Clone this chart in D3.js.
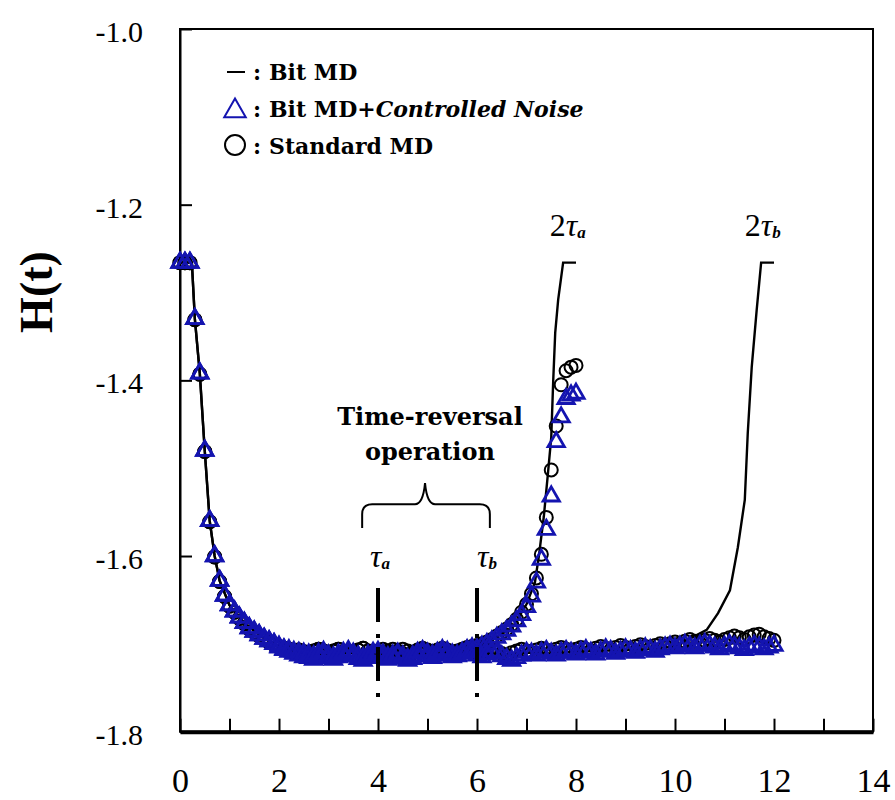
<!DOCTYPE html>
<html lang="en">
<head>
<meta charset="UTF-8">
<title>H(t) with time reversal</title>
<script src="https://d3js.org/d3.v7.min.js"></script>
<style>
  body { margin: 0; background: #fff; }
  svg { display: block; }
  .tick text { font-family: "Liberation Serif", serif; fill: #000; }
  .bold { font-family: "DejaVu Serif", serif; font-weight: bold; }
  .tau { font-family: "Liberation Serif", serif; }
</style>
</head>
<body>
<svg width="895" height="800"></svg>
<script>
// sample times (shared by the marker series)
const time = [
  0.0, 0.1, 0.2, 0.3, 0.4, 0.5, 0.6, 0.7, 0.8, 0.9,
  1.0, 1.1, 1.2, 1.3, 1.4, 1.5, 1.6, 1.7, 1.8, 1.9,
  2.0, 2.1, 2.2, 2.3, 2.4, 2.5, 2.6, 2.7, 2.8, 2.9,
  3.0, 3.1, 3.2, 3.3, 3.4, 3.5, 3.6, 3.7, 3.8, 3.9,
  4.0, 4.1, 4.2, 4.3, 4.4, 4.5, 4.6, 4.7, 4.8, 4.9,
  5.0, 5.1, 5.2, 5.3, 5.4, 5.5, 5.6, 5.7, 5.8, 5.9,
  6.0, 6.1, 6.2, 6.3, 6.4, 6.5, 6.6, 6.7, 6.8, 6.9,
  7.0, 7.1, 7.2, 7.3, 7.4, 7.5, 7.6, 7.7, 7.8, 7.9,
  8.0, 8.1, 8.2, 8.3, 8.4, 8.5, 8.6, 8.7, 8.8, 8.9,
  9.0, 9.1, 9.2, 9.3, 9.4, 9.5, 9.6, 9.7, 9.8, 9.9,
  10.0, 10.1, 10.2, 10.3, 10.4, 10.5, 10.6, 10.7, 10.8, 10.9,
  11.0, 11.1, 11.2, 11.3, 11.4, 11.5, 11.6, 11.7, 11.8, 11.9,
  12.0
];

// Bit MD + controlled noise, reversed at t_a = 4
const noiseA = [
  -1.266, -1.266, -1.266, -1.330, -1.392, -1.480, -1.560, -1.600, -1.628, -1.645,
  -1.656, -1.663, -1.670, -1.676, -1.682, -1.686, -1.690, -1.694, -1.697, -1.700,
  -1.704, -1.707, -1.709, -1.711, -1.713, -1.715, -1.716, -1.718, -1.715, -1.713,
  -1.716, -1.718, -1.715, -1.713, -1.711, -1.714, -1.717, -1.719, -1.716, -1.714,
  -1.712, -1.715, -1.718, -1.716, -1.713, -1.716, -1.719, -1.717, -1.714, -1.711,
  -1.714, -1.716, -1.713, -1.710, -1.712, -1.715, -1.713, -1.710, -1.707, -1.705,
  -1.706, -1.703, -1.700, -1.697, -1.693, -1.689, -1.685, -1.680, -1.674, -1.667,
  -1.658, -1.646, -1.630, -1.604, -1.570, -1.532, -1.470, -1.442, -1.421, -1.417,
  -1.415
];

// Bit MD + controlled noise, reversed at t_b = 6
const noiseB = [
  -1.266, -1.266, -1.266, -1.330, -1.392, -1.480, -1.560, -1.600, -1.628, -1.645,
  -1.656, -1.663, -1.670, -1.676, -1.682, -1.686, -1.690, -1.694, -1.697, -1.700,
  -1.703, -1.706, -1.707, -1.709, -1.710, -1.711, -1.712, -1.714, -1.711, -1.709,
  -1.713, -1.715, -1.712, -1.710, -1.708, -1.711, -1.714, -1.716, -1.713, -1.710,
  -1.709, -1.712, -1.715, -1.713, -1.711, -1.714, -1.717, -1.714, -1.710, -1.708,
  -1.711, -1.713, -1.710, -1.707, -1.709, -1.712, -1.714, -1.711, -1.708, -1.710,
  -1.713, -1.715, -1.712, -1.709, -1.711, -1.714, -1.717, -1.719, -1.716, -1.713,
  -1.710, -1.711, -1.713, -1.710, -1.708, -1.711, -1.713, -1.710, -1.708, -1.710,
  -1.712, -1.709, -1.707, -1.710, -1.712, -1.709, -1.706, -1.708, -1.711, -1.709,
  -1.706, -1.708, -1.710, -1.707, -1.705, -1.707, -1.709, -1.706, -1.704, -1.703,
  -1.705, -1.703, -1.701, -1.703, -1.705, -1.702, -1.700, -1.702, -1.704, -1.706,
  -1.703, -1.701, -1.703, -1.705, -1.707, -1.704, -1.702, -1.704, -1.706, -1.704,
  -1.702
];

// Standard MD, reversed at t_a = 4
const standardA = [
  -1.266, -1.266, -1.266, -1.331, -1.393, -1.481, -1.561, -1.601, -1.629, -1.646,
  -1.657, -1.664, -1.671, -1.677, -1.683, -1.687, -1.691, -1.695, -1.698, -1.701,
  -1.703, -1.705, -1.706, -1.708, -1.707, -1.709, -1.710, -1.708, -1.706, -1.708,
  -1.710, -1.708, -1.706, -1.709, -1.711, -1.709, -1.707, -1.705, -1.708, -1.710,
  -1.708, -1.706, -1.709, -1.711, -1.708, -1.706, -1.708, -1.710, -1.707, -1.705,
  -1.707, -1.709, -1.707, -1.705, -1.708, -1.710, -1.708, -1.706, -1.704, -1.703,
  -1.702, -1.700, -1.698, -1.695, -1.691, -1.687, -1.683, -1.678, -1.672, -1.664,
  -1.655, -1.643, -1.625, -1.598, -1.556, -1.502, -1.452, -1.405, -1.389, -1.385,
  -1.383
];

// Standard MD, reversed at t_b = 6
const standardB = [
  -1.266, -1.266, -1.266, -1.331, -1.393, -1.481, -1.561, -1.601, -1.629, -1.646,
  -1.657, -1.664, -1.671, -1.677, -1.683, -1.687, -1.691, -1.695, -1.698, -1.701,
  -1.703, -1.705, -1.706, -1.708, -1.707, -1.709, -1.710, -1.708, -1.706, -1.708,
  -1.710, -1.708, -1.706, -1.709, -1.711, -1.709, -1.707, -1.705, -1.708, -1.710,
  -1.709, -1.711, -1.708, -1.706, -1.709, -1.711, -1.713, -1.710, -1.708, -1.706,
  -1.708, -1.710, -1.712, -1.709, -1.707, -1.709, -1.711, -1.708, -1.706, -1.708,
  -1.710, -1.712, -1.709, -1.707, -1.709, -1.711, -1.713, -1.710, -1.708, -1.706,
  -1.708, -1.710, -1.707, -1.705, -1.707, -1.709, -1.706, -1.704, -1.706, -1.708,
  -1.706, -1.704, -1.706, -1.708, -1.705, -1.703, -1.705, -1.707, -1.704, -1.702,
  -1.704, -1.706, -1.703, -1.701, -1.703, -1.705, -1.702, -1.700, -1.702, -1.700,
  -1.698, -1.700, -1.697, -1.695, -1.697, -1.699, -1.696, -1.694, -1.696, -1.698,
  -1.695, -1.693, -1.691, -1.693, -1.695, -1.692, -1.690, -1.689, -1.692, -1.694,
  -1.696
];

// Bit MD lines [t, H]
const bitMdA = [
  [0, -1.266], [0.24, -1.266], [0.3, -1.33], [0.4, -1.392], [0.5, -1.48], [0.6, -1.56],
  [0.7, -1.60], [0.8, -1.628], [1.0, -1.656], [1.3, -1.676], [1.6, -1.690], [2.0, -1.703],
  [2.5, -1.711], [3.0, -1.712], [3.5, -1.710], [4.0, -1.711], [4.5, -1.712], [5.0, -1.710],
  [5.5, -1.711], [6.0, -1.705], [6.26, -1.695], [6.5, -1.689], [6.73, -1.680], [7.0, -1.655],
  [7.17, -1.630], [7.25, -1.600], [7.35, -1.555], [7.43, -1.508], [7.5, -1.465], [7.54, -1.40],
  [7.58, -1.346], [7.64, -1.308], [7.74, -1.266], [8.0, -1.266]
];
const bitMdB = [
  [0, -1.266], [0.24, -1.266], [0.3, -1.33], [0.4, -1.392], [0.5, -1.48], [0.6, -1.56],
  [0.7, -1.60], [0.8, -1.628], [1.0, -1.656], [1.3, -1.676], [1.6, -1.690], [2.0, -1.703],
  [2.5, -1.711], [3.0, -1.712], [3.5, -1.710], [4.0, -1.711], [4.5, -1.712], [5.0, -1.710],
  [5.5, -1.711], [6.0, -1.709], [6.5, -1.712], [7.0, -1.710], [7.5, -1.711], [8.0, -1.709],
  [8.5, -1.708], [9.0, -1.707], [9.5, -1.706], [10.0, -1.703], [10.37, -1.692], [10.64, -1.684],
  [10.87, -1.665], [11.11, -1.639], [11.27, -1.59], [11.41, -1.536], [11.47, -1.46],
  [11.55, -1.385], [11.65, -1.32], [11.74, -1.266], [12.0, -1.266]
];

const xTicks = [0, 2, 4, 6, 8, 10, 12, 14];
const xMinorTicks = [1, 3, 5, 7, 9, 11, 13];
const yTicks = [-1.0, -1.2, -1.4, -1.6, -1.8];
const yTickLabels = ["-1.0", "-1.2", "-1.4", "-1.6", "-1.8"];
const reversalTimes = [4, 6];

const blue = "#1414b0";
const svg = d3.select("svg");
const x = d3.scaleLinear([0, 14], [180, 873]);
const y = d3.scaleLinear([-1.8, -1.0], [731.7, 29]);

// frame
svg.append("rect")
    .attr("x", x(0)).attr("y", y(-1.0))
    .attr("width", x(14) - x(0)).attr("height", y(-1.8) - y(-1.0))
    .attr("fill", "none").attr("stroke", "#000").attr("stroke-width", 2);

// axes
const xAxis = svg.append("g").attr("transform", `translate(0,${y(-1.8)})`)
    .call(d3.axisBottom(x).tickValues(xTicks).tickFormat(d3.format("d"))
        .tickSizeInner(-13).tickSizeOuter(0).tickPadding(36));
xAxis.select(".domain").attr("stroke-width", 4);
xAxis.selectAll(".tick line").attr("stroke-width", 2);
xAxis.selectAll(".tick text").attr("font-size", 34);

const xMinor = svg.append("g").attr("transform", `translate(0,${y(-1.8)})`)
    .call(d3.axisBottom(x).tickValues(xMinorTicks).tickFormat("")
        .tickSizeInner(-13).tickSizeOuter(0));
xMinor.select(".domain").remove();
xMinor.selectAll(".tick line").attr("stroke-width", 2);

const yAxis = svg.append("g").attr("transform", `translate(${x(0)},0)`)
    .call(d3.axisLeft(y).tickValues(yTicks).tickFormat((d, i) => yTickLabels[i])
        .tickSizeInner(-12).tickSizeOuter(0).tickPadding(37));
yAxis.select(".domain").attr("stroke-width", 2);
yAxis.selectAll(".tick line").attr("stroke-width", 2);
yAxis.selectAll(".tick text").attr("font-size", 30).attr("dy", "0.42em");

svg.append("text")
    .attr("transform", `translate(52,292) rotate(-90)`)
    .attr("text-anchor", "middle")
    .attr("font-family", "Liberation Serif, serif")
    .attr("font-weight", "bold")
    .attr("font-size", 46)
    .text("H(t)");

// data
const line = d3.line().x(d => x(d[0])).y(d => y(d[1]));
[bitMdA, bitMdB].forEach(s => {
    svg.append("path").datum(s)
        .attr("d", line)
        .attr("fill", "none").attr("stroke", "#000").attr("stroke-width", 2.4);
});

const pts = vals => vals.map((h, i) => [time[i], h]);

[standardA, standardB].forEach(s => {
    svg.append("g").selectAll("circle").data(pts(s)).join("circle")
        .attr("cx", d => x(d[0])).attr("cy", d => y(d[1])).attr("r", 6.5)
        .attr("fill", "none").attr("stroke", "#000").attr("stroke-width", 2);
});

const tri = d3.symbol(d3.symbolTriangle, 115);
[noiseA, noiseB].forEach(s => {
    svg.append("g").selectAll("path").data(pts(s)).join("path")
        .attr("d", tri)
        .attr("transform", d => `translate(${x(d[0])},${y(d[1])})`)
        .attr("fill", "none").attr("stroke", blue).attr("stroke-width", 2.8);
});

// reversal markers (dash-dot)
svg.append("g").selectAll("line").data(reversalTimes).join("line")
    .attr("x1", d => x(d)).attr("x2", d => x(d))
    .attr("y1", y(-1.6364)).attr("y2", y(-1.7673))
    .attr("stroke", "#000").attr("stroke-width", 4)
    .attr("stroke-dasharray", "34 12 4 9");

// brace over the reversal interval
const bx0 = x(3.68), bx1 = x(6.26), bxm = x(4.95);
const byH = y(-1.541), byTip = y(-1.517), byEnd = y(-1.568), r = 10;
svg.append("path")
    .attr("d", `M${bx0},${byEnd} V${byH + r} Q${bx0},${byH} ${bx0 + r},${byH} H${bxm - 10}
        Q${bxm - 2},${byH} ${bxm},${byTip} Q${bxm + 2},${byH} ${bxm + 10},${byH}
        H${bx1 - r} Q${bx1},${byH} ${bx1},${byH + r} V${byEnd}`)
    .attr("fill", "none").attr("stroke", "#000").attr("stroke-width", 2);

svg.append("text").attr("class", "bold")
    .attr("x", x(5.05)).attr("y", y(-1.451))
    .attr("text-anchor", "middle").attr("font-size", 24)
    .text("Time-reversal");
svg.append("text").attr("class", "bold")
    .attr("x", x(5.05)).attr("y", y(-1.491))
    .attr("text-anchor", "middle").attr("font-size", 24)
    .text("operation");

function tauLabel(t, h, prefix, sub) {
    const txt = svg.append("text").attr("class", "tau")
        .attr("x", x(t)).attr("y", y(h)).attr("font-size", 32);
    if (prefix) txt.append("tspan").text(prefix);
    txt.append("tspan").attr("font-style", "italic").text("τ");
    txt.append("tspan").attr("font-style", "italic").attr("font-weight", "bold")
        .attr("font-size", 17).attr("dy", 2).text(sub);
}
tauLabel(3.84, -1.6125, "", "a");
tauLabel(6.0, -1.6125, "", "b");
tauLabel(7.47, -1.2357, "2", "a");
tauLabel(11.41, -1.2357, "2", "b");

// legend
const lg = svg.append("g");
lg.append("line").attr("x1", 227).attr("x2", 245).attr("y1", 72).attr("y2", 72)
    .attr("stroke", "#000").attr("stroke-width", 2);
lg.append("path").attr("d", d3.symbol(d3.symbolTriangle, 200))
    .attr("transform", "translate(235,111)")
    .attr("fill", "none").attr("stroke", blue).attr("stroke-width", 2);
lg.append("circle").attr("cx", 235).attr("cy", 145).attr("r", 10)
    .attr("fill", "none").attr("stroke", "#000").attr("stroke-width", 2);

const legendRows = [80, 117, 154];
lg.selectAll("text.colon").data(legendRows).join("text")
    .attr("class", "bold colon").attr("x", 253).attr("y", d => d)
    .attr("font-size", 22).text(":");
lg.append("text").attr("class", "bold").attr("x", 269).attr("y", legendRows[0])
    .attr("font-size", 22).text("Bit MD");
const row2 = lg.append("text").attr("class", "bold").attr("x", 269).attr("y", legendRows[1])
    .attr("font-size", 22);
row2.append("tspan").text("Bit MD+");
row2.append("tspan").attr("font-style", "italic").text("Controlled Noise");
lg.append("text").attr("class", "bold").attr("x", 269).attr("y", legendRows[2])
    .attr("font-size", 22).text("Standard MD");
</script>
</body>
</html>
